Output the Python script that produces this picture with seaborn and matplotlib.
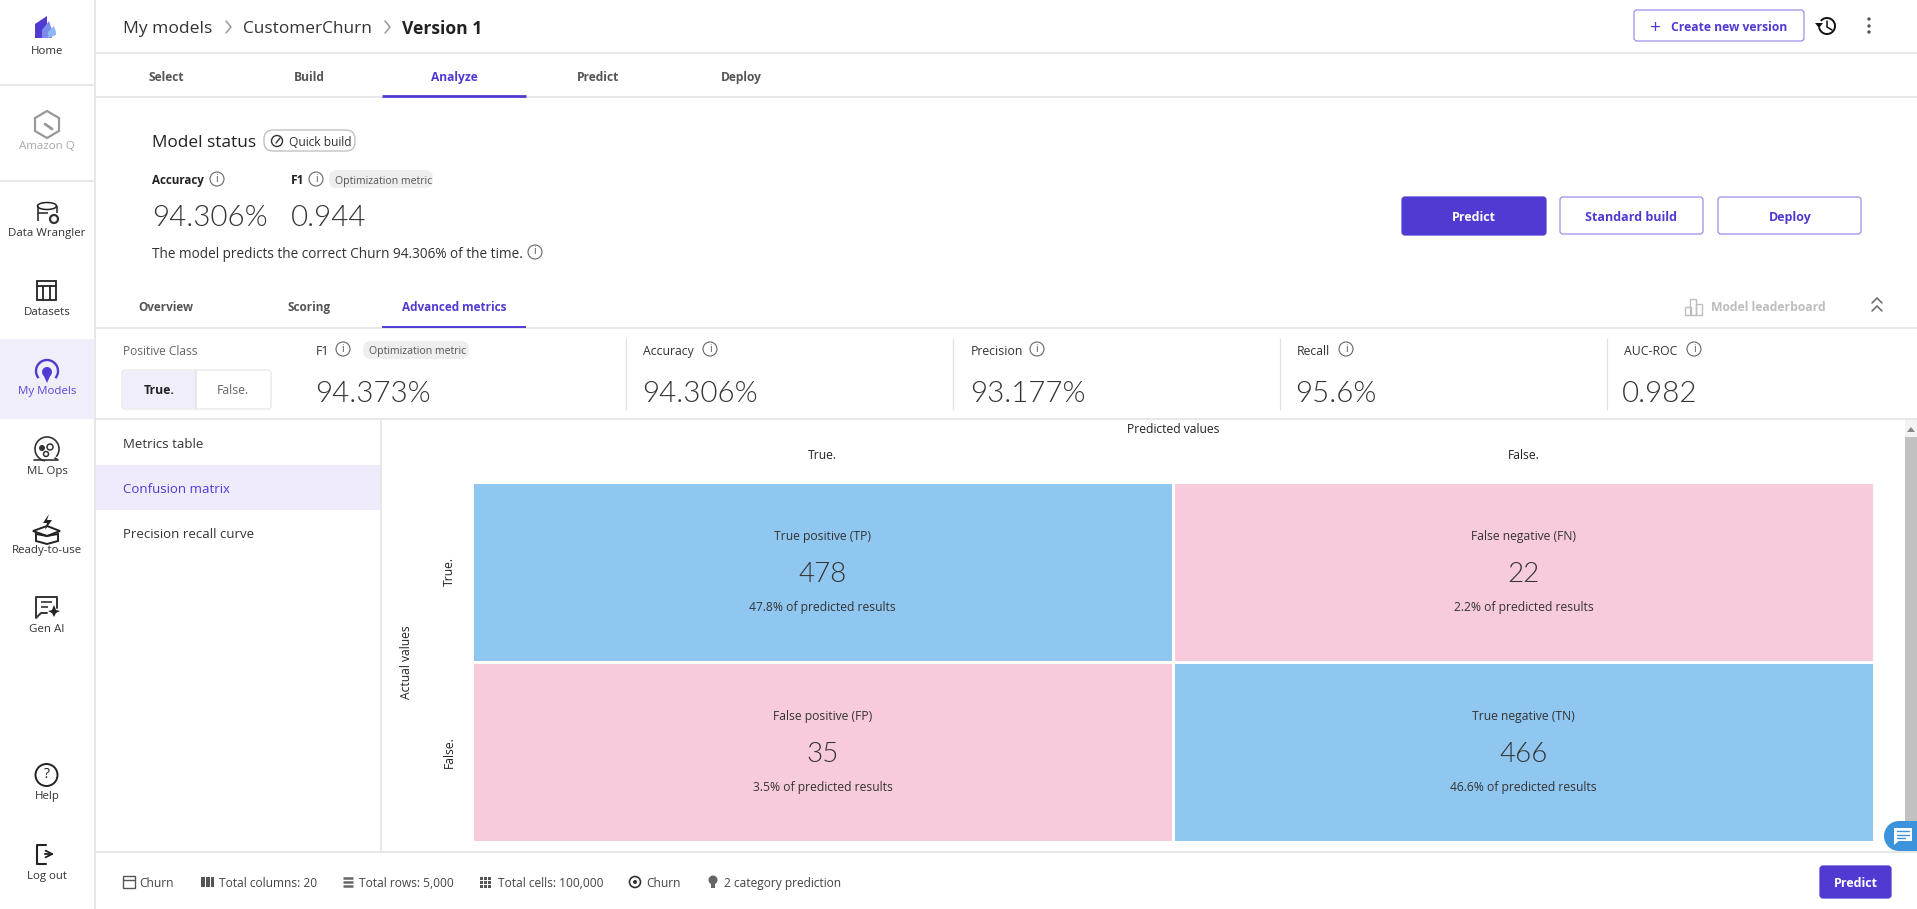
import numpy as np
import pandas as pd
import matplotlib
matplotlib.use('Agg')
import matplotlib.pyplot as plt
import seaborn as sns
from matplotlib.colors import ListedColormap
from matplotlib.patches import Circle, FancyBboxPatch, Polygon, Rectangle, Arc, Ellipse

# chart data
class_names = ['True.', 'False.']
cell_counts = [[478, 22], [35, 466]]
cell_names = [['True positive (TP)', 'False negative (FN)'], ['False positive (FP)', 'True negative (TN)']]
cell_shares = [['47.8%', '2.2%'], ['3.5%', '46.6%']]
metric_names = ['F1', 'Accuracy', 'Precision', 'Recall', 'AUC-ROC']
metric_values = ['94.373%', '94.306%', '93.177%', '95.6%', '0.982']
side_labels = ['Home', 'Amazon Q', 'Data Wrangler', 'Datasets', 'My Models', 'ML Ops', 'Ready-to-use', 'Gen AI', 'Help', 'Log out']
step_tabs = ['Select', 'Build', 'Analyze', 'Predict', 'Deploy']
result_tabs = ['Overview', 'Scoring', 'Advanced metrics']
menu_items = ['Metrics table', 'Confusion matrix', 'Precision recall curve']
footer_items = ['Churn', 'Total columns: 20', 'Total rows: 5,000', 'Total cells: 100,000', 'Churn', '2 category prediction']

PURPLE = '#4F3BD1'
BORDER = '#9C8DEE'
LINE = '#E2E2E2'
DARK = '#2B2B2B'
BLUE = '#90C7F0'
PINK = '#F7CBDB'
THIN = 'Lato'

sns.set_theme(style='white')
plt.rcParams['font.family'] = ['Open Sans', 'DejaVu Sans']

fig = plt.figure(figsize=(19.17, 9.09), dpi=100, facecolor='white')
ui = fig.add_axes([0, 0, 1, 1])
ui.set_xlim(0, 1917)
ui.set_ylim(909, 0)
ui.axis('off')


def label(x, y, s, px=13, color=DARK, weight='normal', ha='left', family=None):
    kw = {'family': family} if family else {}
    ui.text(x, y, s, fontsize=px * 0.72, color=color, weight=weight, ha=ha, va='center_baseline', zorder=6, **kw)


def hline(y, x0, x1=1917, c=LINE, lw=1.1):
    ui.plot([x0, x1], [y, y], color=c, lw=lw, solid_capstyle='butt', zorder=3)


def vline(x, y0, y1, c=LINE, lw=1.1):
    ui.plot([x, x], [y0, y1], color=c, lw=lw, solid_capstyle='butt', zorder=3)


def box(x0, y0, x1, y1, fc='white', ec=BORDER, r=3, lw=0.9, z=2):
    ui.add_patch(FancyBboxPatch((x0 + r, y0 + r), x1 - x0 - 2 * r, y1 - y0 - 2 * r,
                                boxstyle=f'round,pad={r},rounding_size={r}', fc=fc, ec=ec, lw=lw, zorder=z))


def info(x, y, r=7):
    ui.add_patch(Circle((x, y), r, fc='none', ec='#666666', lw=0.8, zorder=3))
    ui.text(x, y, 'i', fontsize=7.5, color='#555555', ha='center', va='center', zorder=6)


# frame lines
hline(53, 95)
hline(97, 95)
hline(328, 95)
hline(419, 95)
hline(852, 95)
vline(95, 0, 909)
vline(381, 419, 852)
hline(85, 0, 95)
hline(181, 0, 95)

# sidebar
ui.add_patch(Rectangle((0, 339), 94, 80, fc='#F0EEFB', ec='none'))
side_y = [50, 145, 232, 311, 390, 470, 549, 628, 795, 875]
for name, y in zip(side_labels, side_y):
    col = '#A9A9A9' if name == 'Amazon Q' else ('#5B45D6' if name == 'My Models' else '#333333')
    label(47, y, name, px=11.5, color=col, ha='center')

# sidebar icons, rough versions
ui.add_patch(Polygon([[35, 38], [35, 24], [47, 16], [47, 38]], fc=PURPLE, ec='none'))
ui.add_patch(Polygon([[42, 38], [42, 30], [49, 21], [52, 30], [52, 38]], fc='#7C8BEA', ec='none'))
ui.add_patch(Polygon([[48, 38], [48, 32], [54, 26], [56, 32], [56, 35]], fc='#8FB8F2', ec='none'))
ui.add_patch(Polygon([[47, 111], [59, 118], [59, 131], [47, 138], [35, 131], [35, 118]], fc='none', ec='#999999', lw=1.6))
ui.plot([45, 52], [124, 129], color='#999999', lw=2)
ui.add_patch(Ellipse((47, 206), 19, 7, fc='none', ec='#222222', lw=1.1))
vline(37.5, 206, 221, c='#222222', lw=1.1)
vline(56.5, 206, 213, c='#222222', lw=1.1)
hline(213, 38, 48, c='#222222', lw=1.1)
ui.add_patch(Circle((54, 219), 4, fc='none', ec='#333333', lw=1.6))
ui.add_patch(Rectangle((37, 281), 19, 19, fc='none', ec='#222222', lw=1.3))
hline(286, 37, 56, c='#222222', lw=1.3)
vline(43, 286, 300, c='#222222', lw=1.3)
vline(50, 286, 300, c='#222222', lw=1.3)
ui.add_patch(Arc((47, 371), 22, 22, theta1=140, theta2=400, ec=PURPLE, lw=1.7))
ui.add_patch(Circle((47, 372), 5, fc=PURPLE, ec='none'))
ui.add_patch(Polygon([[43, 374], [51, 374], [47, 383]], fc=PURPLE, ec='none'))
ui.add_patch(Arc((47, 449), 24, 24, theta1=100, theta2=400, ec='#333333', lw=1.2))
ui.add_patch(Circle((42, 448), 3, fc='#333333', ec='none'))
ui.add_patch(Circle((50, 447), 3, fc='none', ec='#333333', lw=1.1))
ui.add_patch(Circle((46, 454), 2.5, fc='none', ec='#333333', lw=1.1))
ui.plot([34, 58, 55], [460, 460, 458], color='#333333', lw=1.2)
ui.add_patch(Polygon([[33, 531], [47, 526], [60, 531], [47, 536]], fc='none', ec='#222222', lw=1.4))
ui.add_patch(Polygon([[36, 534], [36, 541], [47, 544], [58, 541], [58, 534], [47, 536]], fc='none', ec='#222222', lw=1.4))
ui.add_patch(Polygon([[49, 514], [43, 523], [47, 523], [45, 530], [52, 520], [47, 520]], fc='#222222', ec='none'))
ui.plot([57, 57, 36, 36, 41, 47], [608, 597, 597, 618, 613, 613], color='#333333', lw=1.4)
hline(602, 41, 52, c='#333333', lw=1.2)
hline(607, 41, 48, c='#333333', lw=1.2)
ui.add_patch(Polygon([[54, 605], [56, 610], [60, 611], [56, 613], [54, 617], [52, 613], [48, 611], [52, 610]], fc='#222222', ec='none'))
ui.add_patch(Circle((46.5, 775), 11, fc='none', ec='#222222', lw=1.4))
ui.text(46.5, 775, '?', fontsize=10, color='#222222', ha='center', va='center')
ui.plot([46, 37, 37, 46], [845, 845, 864, 864], color='#222222', lw=1.5)
ui.annotate('', xy=(57, 854), xytext=(42, 854), arrowprops=dict(arrowstyle='->', color='#222222', lw=1.3))

# header
label(123, 27, 'My models', px=17.5, color='#333333')
label(243, 27, 'CustomerChurn', px=17.3, color='#333333')
label(402, 27, 'Version 1', px=17.5, color='#222222', weight='bold')
for cx in [226, 385]:
    ui.plot([cx, cx + 5, cx], [21, 27, 33], color='#999999', lw=1.1)
box(1634, 10, 1804, 41)
label(1655, 26, '+', px=19, color=PURPLE, ha='center')
label(1671, 26, 'Create new version', px=12.1, color=PURPLE, weight='bold')
ui.add_patch(Arc((1827, 26), 16, 16, theta1=-140, theta2=170, ec='#111111', lw=1.4))
ui.plot([1827, 1827, 1832], [21, 27, 30], color='#111111', lw=1.1)
ui.add_patch(Polygon([[1815, 23], [1823, 23], [1819, 28]], fc='#111111', ec='none'))
for y in [19, 26, 32]:
    ui.add_patch(Circle((1869, y), 1.7, fc='#555555', ec='none'))

# step tabs
for name, x in zip(step_tabs, [166, 309, 454, 598, 741]):
    active = name == 'Analyze'
    label(x, 76, name, px=12, color=PURPLE if active else '#555555', weight='bold', ha='center')
hline(96, 382, 526, c=PURPLE, lw=2)

# model status block
label(152, 141, 'Model status', px=17.3, color='#222222')
box(264, 130, 355, 151, ec='#BBBBBB', r=9)
ui.add_patch(Circle((277, 141), 5.5, fc='none', ec='#333333', lw=1, zorder=3))
ui.plot([276, 280], [143, 138], color='#333333', lw=1, zorder=3)
label(289, 141, 'Quick build', px=12, color='#333333')
label(152, 179, 'Accuracy', px=11.6, color='#222222', weight='bold')
info(217, 179)
label(291, 179, 'F1', px=12, color='#222222', weight='bold')
info(316, 179)
box(329, 170, 433, 188, fc='#EEEEEE', ec='none', r=8)
label(335, 180, 'Optimization metric', px=10.5, color='#555555')
label(152, 216, '94.306%', px=29.5, color='#333333', weight=300, family=THIN)
label(291, 216, '0.944', px=29.5, color='#333333', weight=300, family=THIN)
label(152, 252, 'The model predicts the correct Churn 94.306% of the time.', px=13.6, color='#333333')
info(535, 252)
box(1402, 197, 1546, 235, fc=PURPLE, ec=PURPLE)
label(1474, 216, 'Predict', px=12.5, color='white', weight='bold', ha='center')
box(1560, 197, 1703, 234)
label(1631, 216, 'Standard build', px=12.5, color=PURPLE, weight='bold', ha='center')
box(1718, 197, 1861, 234)
label(1790, 216, 'Deploy', px=12.5, color=PURPLE, weight='bold', ha='center')

# result tabs
for name, x in zip(result_tabs, [166, 309, 454]):
    active = name == 'Advanced metrics'
    label(x, 306, name, px=11.8, color=PURPLE if active else '#555555', weight='bold', ha='center')
hline(327, 382, 526, c=PURPLE, lw=1.4)
for bx, by, bh in [(1685, 307, 8), (1690, 299, 16), (1696, 304, 11)]:
    ui.add_patch(Rectangle((bx, by), 5.5, bh, fc='none', ec='#BDBDBD', lw=1))
label(1711, 306, 'Model leaderboard', px=12.1, color='#BDBDBD', weight='bold')
for yy in [303, 311]:
    ui.plot([1872, 1877, 1882], [yy, yy - 5, yy], color='#666666', lw=1.1)

# metric strip
label(123, 350, 'Positive Class', px=12, color='#666666')
box(122, 370, 271, 409, ec='#E6E6E6', r=3)
ui.add_patch(Rectangle((123, 371), 73, 37, fc='#F0EEFB', ec='none', zorder=2.5))
vline(196, 370, 409)
ui.text(159, 390, class_names[0], fontsize=8.8, color='#222222', weight='bold', ha='center', va='center', zorder=6)
ui.text(233, 390, class_names[1], fontsize=8.8, color='#666666', ha='center', va='center', zorder=6)

metric_x = [316, 643, 971, 1297, 1624]
icon_x = [343, 710, 1037, 1346, 1694]
value_x = [315, 642, 970, 1295, 1622]
for name, val, mx, ix, vx in zip(metric_names, metric_values, metric_x, icon_x, value_x):
    label(mx, 350, name, px=12.2, color='#333333')
    info(ix, 349)
    label(vx, 392, val, px=29.5, color='#333333', weight=300, family=THIN)
box(363, 341, 469, 359, fc='#EEEEEE', ec='none', r=8)
label(369, 350, 'Optimization metric', px=10.5, color='#555555')
for x in [626, 953, 1280, 1607]:
    vline(x, 338, 410, lw=0.9)

# left menu
ui.add_patch(Rectangle((96, 465), 285, 45, fc='#EFEBFC', ec='none'))
for name, y in zip(menu_items, [443, 488, 533]):
    label(123, y, name, px=13.3, color=PURPLE if name == 'Confusion matrix' else '#333333')

# footer
footer_x = [139, 219, 359, 498, 646, 724]
for name, x in zip(footer_items, footer_x):
    label(x, 882, name, px=12, color='#444444')
ui.add_patch(Rectangle((122.5, 876), 12, 12, fc='none', ec='#555555', lw=1))
hline(880, 122.5, 134.5, c='#555555', lw=1)
ui.add_patch(Rectangle((201, 877), 4, 10, fc='#555555', ec='none'))
ui.add_patch(Rectangle((206, 877), 4, 10, fc='#555555', ec='none'))
ui.add_patch(Rectangle((211, 877), 3, 10, fc='#555555', ec='none'))
for y in [878, 882, 886]:
    hline(y, 343, 353, c='#666666', lw=1.8)
for gx in [480, 484, 488]:
    for gy in [877, 881, 885]:
        ui.add_patch(Rectangle((gx, gy), 3, 3, fc='#555555', ec='none'))
ui.add_patch(Circle((635, 882), 5.5, fc='none', ec='#333333', lw=1.2))
ui.add_patch(Circle((635, 882), 2, fc='#333333', ec='none'))
ui.add_patch(Circle((713, 880), 4.5, fc='#666666', ec='none'))
ui.add_patch(Rectangle((711, 884), 4, 4, fc='#666666', ec='none'))
box(1820, 866, 1891, 898, fc=PURPLE, ec=PURPLE)
label(1855.5, 882, 'Predict', px=12.5, color='white', weight='bold', ha='center')

# scrollbar and chat bubble
ui.add_patch(Rectangle((1905, 420), 12, 432, fc='#F3F3F3', ec='none'))
ui.add_patch(Rectangle((1905, 437), 12, 395, fc='#C1C1C1', ec='none'))
ui.add_patch(Polygon([[1907, 432], [1911, 427], [1915, 432]], fc='#888888', ec='none'))
ui.add_patch(Circle((1899, 836), 15, fc='#3B93DB', ec='none', zorder=4))
ui.add_patch(Rectangle((1899, 821), 18, 30, fc='#3B93DB', ec='none', zorder=4))
ui.add_patch(Rectangle((1894, 828), 18, 13, fc='white', ec='none', zorder=5))
ui.add_patch(Polygon([[1894, 840], [1894, 845], [1900, 840]], fc='white', ec='none', zorder=5))
ui.plot([1897, 1909], [831, 831], color='#3B93DB', lw=1, zorder=5.5)
ui.plot([1897, 1909], [834.5, 834.5], color='#3B93DB', lw=1, zorder=5.5)
ui.plot([1897, 1905], [838, 838], color='#3B93DB', lw=1, zorder=5.5)
ui.set_xlim(0, 1917)
ui.set_ylim(909, 0)

# confusion matrix
counts = pd.DataFrame(cell_counts, index=class_names, columns=class_names)
ax = fig.add_axes([472 / 1917, 1 - 842 / 909, 1402 / 1917, 360 / 909])
sns.heatmap(counts, ax=ax, cmap=ListedColormap([PINK, BLUE]), vmin=0, vmax=500, cbar=False,
            annot=True, fmt='d', linewidths=2, linecolor='white',
            annot_kws={'fontsize': 20, 'color': '#333333', 'fontweight': 300, 'family': THIN,
                       'va': 'center_baseline'})
for r in range(2):
    for c in range(2):
        ax.text(c + 0.5, r + 0.305, cell_names[r][c], fontsize=8.7, color='#333333', ha='center', va='center')
        ax.text(c + 0.5, r + 0.695, cell_shares[r][c] + ' of predicted results', fontsize=8.7, color='#333333', ha='center', va='center')

ax.xaxis.tick_top()
ax.xaxis.set_label_position('top')
ax.tick_params(axis='both', length=0)
ax.tick_params(axis='x', pad=14.7, labelsize=8.7, labelcolor='#222222')
ax.tick_params(axis='y', pad=11.4, labelsize=8.7, labelcolor='#222222')
plt.setp(ax.get_yticklabels(), rotation=90, va='center')
ax.set_xlabel('Predicted values', fontsize=8.7, color='#222222', labelpad=11)
ax.set_ylabel('Actual values', fontsize=8.7, color='#222222', labelpad=21.7)

fig.savefig('out.png', dpi=100)
